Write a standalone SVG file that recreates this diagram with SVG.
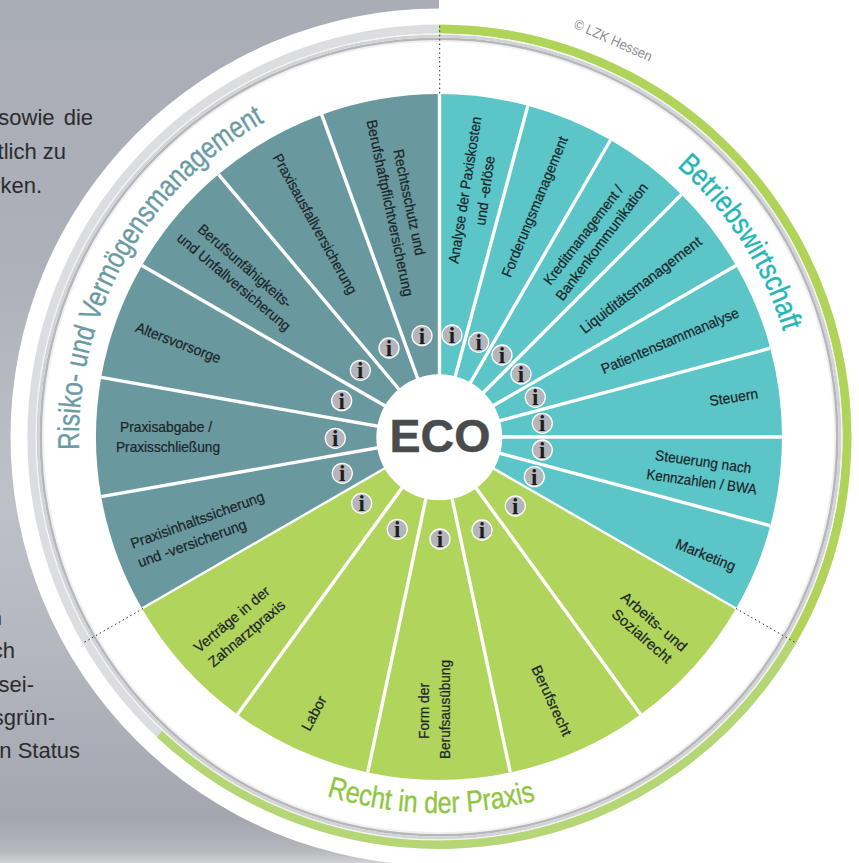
<svg xmlns="http://www.w3.org/2000/svg" width="859" height="863" viewBox="0 0 859 863">
<style>
.a{fill:#69999f}.b{fill:#5bc5c8}.c{fill:#b1d45c}
text{font-family:"Liberation Sans",Arial,sans-serif}
.l{font-size:14.6px;fill:#1c2528;stroke:#1c2528;stroke-width:.22;text-anchor:middle}
.i{fill:#b4b5ba;stroke:#fff;stroke-width:1.3}
.ii{font-family:"Liberation Serif",serif;font-weight:bold;font-size:23px;fill:#1d1d1f;text-anchor:middle}
.p{font-size:22px;fill:#2b2b2d;text-anchor:end}
.t{font-size:30px;stroke-width:.35}
.sep{stroke:#fff;stroke-width:3.4;fill:none}
.dot{stroke:#222;stroke-width:1;stroke-dasharray:1.4 3;fill:none}
.ring{fill:none}
</style>
<defs>
<linearGradient id="bg" x1="0" y1="0" x2="0" y2="1">
<stop offset="0" stop-color="#a9adb6"/><stop offset=".3" stop-color="#adb0b8"/><stop offset=".58" stop-color="#bfc1c8"/><stop offset=".75" stop-color="#b5b7bf"/><stop offset=".95" stop-color="#a3a6af"/><stop offset=".985" stop-color="#b5b7be"/><stop offset="1" stop-color="#cfd1d5"/>
</linearGradient>
<path id="pr" d="M79.2 449.6A360 360 0 0 1 264.5 122.1"/>
<path id="pb" d="M676.6 166.5A360 360 0 0 1 783.3 331.7"/>
<path id="pc" d="M326.6 795.8A376 376 0 0 0 536.3 800.2"/>
</defs>
<rect width="859" height="863" fill="#fff"/>
<rect id="page" width="439" height="863" fill="url(#bg)"/>
<g id="page-text">
<text class="p" x="93" y="125" word-spacing="3">sowie die</text>
<text class="p" x="66" y="159">tlich zu</text>
<text class="p" x="42" y="193">rken.</text>
<text class="p" x="2" y="625" font-weight="bold">n</text>
<text class="p" x="15" y="658">ch</text>
<text class="p" x="34" y="692">sei-</text>
<text class="p" x="55" y="725">sgrün-</text>
<text class="p" x="80" y="758">n Status</text>
</g>
<circle cx="439" cy="437" r="428.5" fill="#fff"/>
<g id="rings" class="ring">
<path d="M159.7 733.6A408 408 0 0 1 439 29" stroke="#dcdde0" stroke-width="9"/>
<path d="M439 29A408 408 0 0 1 792.3 641" stroke="#b0d45a" stroke-width="9"/>
<path d="M792.3 641A408 408 0 0 1 159.7 733.6" stroke="#b4d674" stroke-width="9"/>
<circle cx="439" cy="437" r="396" stroke="#f1f1f2" stroke-width="2"/>
<circle cx="439" cy="437" r="398.3" stroke="#b6b7bb" stroke-width="2.6"/>
<circle cx="439" cy="437" r="401" stroke="#d2d3d6" stroke-width="3"/>
<circle cx="439" cy="437" r="403" stroke="#f4f4f5" stroke-width="1.2"/>
</g>
<g id="node-rechtsschutz"><path class="a" d="M439 437V94A343 343 0 0 0 321.7 114.7Z"/>
<text class="l" transform="translate(409.3 202.3) rotate(78)" y="5" textLength="108" lengthAdjust="spacingAndGlyphs">Rechtsschutz und</text>
<text class="l" transform="translate(390 208) rotate(78)" y="5" textLength="180" lengthAdjust="spacingAndGlyphs">Berufshaftpflichtversicherung</text>
<circle class="i" cx="422" cy="335.7" r="10"/><text class="ii" x="422" y="343.5">i</text></g>
<g id="node-praxisausfall"><path class="a" d="M439 437L321.7 114.7A343 343 0 0 0 218.5 174.3Z"/>
<text class="l" transform="translate(315 224) rotate(61)" y="5" textLength="158" lengthAdjust="spacingAndGlyphs">Praxisausfallversicherung</text>
<circle class="i" cx="389" cy="348" r="10"/><text class="ii" x="389" y="355.8">i</text></g>
<g id="node-berufsunfaehigkeit"><path class="a" d="M439 437L218.5 174.3A343 343 0 0 0 142 265.5Z"/>
<text class="l" transform="translate(245 266) rotate(41)" y="5" textLength="119" lengthAdjust="spacingAndGlyphs">Berufsunfähigkeits-</text>
<text class="l" transform="translate(234 282) rotate(40)" y="5" textLength="143" lengthAdjust="spacingAndGlyphs">und Unfallversicherung</text>
<circle class="i" cx="360.3" cy="370.3" r="10"/><text class="ii" x="360.3" y="378.1">i</text></g>
<g id="node-altersvorsorge"><path class="a" d="M439 437L142 265.5A343 343 0 0 0 101.2 377.4Z"/>
<text class="l" transform="translate(178.3 342.7) rotate(21)" y="5" textLength="90" lengthAdjust="spacingAndGlyphs">Altersvorsorge</text>
<circle class="i" cx="341.7" cy="400.7" r="10"/><text class="ii" x="341.7" y="408.5">i</text></g>
<g id="node-praxisabgabe"><path class="a" d="M439 437L101.2 377.4A343 343 0 0 0 101.2 496.6Z"/>
<text class="l" transform="translate(166 427)" y="5" textLength="92" lengthAdjust="spacingAndGlyphs">Praxisabgabe /</text>
<text class="l" transform="translate(168 447)" y="5" textLength="104" lengthAdjust="spacingAndGlyphs">Praxisschließung</text>
<circle class="i" cx="335.3" cy="438.3" r="10"/><text class="ii" x="335.3" y="446.1">i</text></g>
<g id="node-praxisinhalt"><path class="a" d="M439 437L101.2 496.6A343 343 0 0 0 142 608.5Z"/>
<text class="l" transform="translate(197.3 520) rotate(-20)" y="5" textLength="141" lengthAdjust="spacingAndGlyphs">Praxisinhaltssicherung</text>
<text class="l" transform="translate(192 543.3) rotate(-20)" y="5" textLength="114.5" lengthAdjust="spacingAndGlyphs">und -versicherung</text>
<circle class="i" cx="342.3" cy="473.3" r="10"/><text class="ii" x="342.3" y="481.1">i</text></g>
<g id="node-vertraege"><path class="c" d="M439 437L142 608.5A343 343 0 0 0 237.4 714.5Z"/>
<text class="l" transform="translate(231.7 619.3) rotate(-40)" y="5" textLength="94" lengthAdjust="spacingAndGlyphs">Verträge in der</text>
<text class="l" transform="translate(246.7 633.3) rotate(-40)" y="5" textLength="95" lengthAdjust="spacingAndGlyphs">Zahnarztpraxis</text>
<circle class="i" cx="361.7" cy="503.3" r="10"/><text class="ii" x="361.7" y="511.1">i</text></g>
<g id="node-labor"><path class="c" d="M439 437L237.4 714.5A343 343 0 0 0 367.7 772.5Z"/>
<text class="l" transform="translate(314 713.3) rotate(-62)" y="5" textLength="37" lengthAdjust="spacingAndGlyphs">Labor</text>
<circle class="i" cx="397.3" cy="529.3" r="10"/><text class="ii" x="397.3" y="537.1">i</text></g>
<g id="node-form"><path class="c" d="M439 437L367.7 772.5A343 343 0 0 0 510.3 772.5Z"/>
<text class="l" transform="translate(424 711) rotate(-90)" y="5" textLength="56" lengthAdjust="spacingAndGlyphs">Form der</text>
<text class="l" transform="translate(445 709.5) rotate(-90)" y="5" textLength="99" lengthAdjust="spacingAndGlyphs">Berufsausübung</text>
<circle class="i" cx="440" cy="539" r="10"/><text class="ii" x="440" y="546.8">i</text></g>
<g id="node-berufsrecht"><path class="c" d="M439 437L510.3 772.5A343 343 0 0 0 640.6 714.5Z"/>
<text class="l" transform="translate(551.7 700.7) rotate(65)" y="5" textLength="76" lengthAdjust="spacingAndGlyphs">Berufsrecht</text>
<circle class="i" cx="482" cy="530" r="10"/><text class="ii" x="482" y="537.8">i</text></g>
<g id="node-arbeitsrecht"><path class="c" d="M439 437L640.6 714.5A343 343 0 0 0 736 608.5Z"/>
<text class="l" transform="translate(654 621.7) rotate(41)" y="5" textLength="82" lengthAdjust="spacingAndGlyphs">Arbeits- und</text>
<text class="l" transform="translate(642 636) rotate(41)" y="5" textLength="74" lengthAdjust="spacingAndGlyphs">Sozialrecht</text>
<circle class="i" cx="515.3" cy="506" r="10"/><text class="ii" x="515.3" y="513.8">i</text></g>
<g id="node-marketing"><path class="b" d="M439 437L736 608.5A343 343 0 0 0 770.3 525.8Z"/>
<text class="l" transform="translate(705.7 555) rotate(22)" y="5" textLength="63" lengthAdjust="spacingAndGlyphs">Marketing</text>
<circle class="i" cx="534.3" cy="476.7" r="10"/><text class="ii" x="534.3" y="484.5">i</text></g>
<g id="node-steuerung"><path class="b" d="M439 437L770.3 525.8A343 343 0 0 0 782 437Z"/>
<text class="l" transform="translate(703.3 461.7) rotate(8)" y="5" textLength="97" lengthAdjust="spacingAndGlyphs">Steuerung nach</text>
<text class="l" transform="translate(701.7 481.7) rotate(8)" y="5" textLength="111" lengthAdjust="spacingAndGlyphs">Kennzahlen / BWA</text>
<circle class="i" cx="542.3" cy="450" r="10"/><text class="ii" x="542.3" y="457.8">i</text></g>
<g id="node-steuern"><path class="b" d="M439 437H782A343 343 0 0 0 770.3 348.2Z"/>
<text class="l" transform="translate(733.7 397.3) rotate(-9)" y="5" textLength="49" lengthAdjust="spacingAndGlyphs">Steuern</text>
<circle class="i" cx="542.3" cy="423.3" r="10"/><text class="ii" x="542.3" y="431.1">i</text></g>
<g id="node-patientenstamm"><path class="b" d="M439 437L770.3 348.2A343 343 0 0 0 736 265.5Z"/>
<text class="l" transform="translate(670 340.7) rotate(-23)" y="5" textLength="148" lengthAdjust="spacingAndGlyphs">Patientenstammanalyse</text>
<circle class="i" cx="535.3" cy="397.3" r="10"/><text class="ii" x="535.3" y="405.1">i</text></g>
<g id="node-liquiditaet"><path class="b" d="M439 437L736 265.5A343 343 0 0 0 681.5 194.5Z"/>
<text class="l" transform="translate(640.7 285) rotate(-37.5)" y="5" textLength="149" lengthAdjust="spacingAndGlyphs">Liquiditätsmanagement</text>
<circle class="i" cx="521" cy="374" r="10"/><text class="ii" x="521" y="381.8">i</text></g>
<g id="node-kredit"><path class="b" d="M439 437L681.5 194.5A343 343 0 0 0 610.5 140Z"/>
<text class="l" transform="translate(583.3 235) rotate(-52.5)" y="5" textLength="121" lengthAdjust="spacingAndGlyphs">Kreditmanagement /</text>
<text class="l" transform="translate(601.7 241.7) rotate(-53)" y="5" textLength="143" lengthAdjust="spacingAndGlyphs">Bankenkommunikation</text>
<circle class="i" cx="502" cy="355" r="10"/><text class="ii" x="502" y="362.8">i</text></g>
<g id="node-forderung"><path class="b" d="M439 437L610.5 140A343 343 0 0 0 527.8 105.7Z"/>
<text class="l" transform="translate(534.7 206.7) rotate(-67.5)" y="5" textLength="151" lengthAdjust="spacingAndGlyphs">Forderungsmanagement</text>
<circle class="i" cx="478.7" cy="342.3" r="10"/><text class="ii" x="478.7" y="350.1">i</text></g>
<g id="node-analyse"><path class="b" d="M439 437L527.8 105.7A343 343 0 0 0 439 94Z"/>
<text class="l" transform="translate(465 190) rotate(-81)" y="5" textLength="148.5" lengthAdjust="spacingAndGlyphs">Analyse der Paxiskosten</text>
<text class="l" transform="translate(485 190.7) rotate(-82)" y="5" textLength="70" lengthAdjust="spacingAndGlyphs">und -erlöse</text>
<circle class="i" cx="452" cy="335" r="10"/><text class="ii" x="452" y="342.8">i</text></g>
<g id="connectors">
<g class="sep">
<path d="M439.5 437V94M439 437L527.8 105.7M439 437L610.5 140M439 437L681.5 194.5M439 437L736 265.5M439 437L770.3 348.2M439 437H782M439 437L770.3 525.8M439 437L640.6 714.5M439 437L510.3 772.5M439 437L367.7 772.5M439 437L237.4 714.5M439 437L101.2 496.6M439 437L101.2 377.4M439 437L142 265.5M439 437L218.5 174.3M439 437L321.7 114.7"/>
<path d="M439 437L736 608.5M439 437L142 608.5" stroke-width="2.4"/>
</g>
<path class="dot" d="M439.7 26V94M736 608.5L796 643M143 608.5L83 643"/>
</g>
<g id="hub"><circle cx="439.3" cy="437.3" r="63" fill="#fff"/>
<text x="440" y="451.7" text-anchor="middle" font-size="46.5" font-weight="bold" fill="#4a4b4d" stroke="#4a4b4d" stroke-width=".5">ECO</text></g>
<g id="section-titles">
<text class="t" fill="#6a9aa3" stroke="#6a9aa3"><textPath href="#pr" textLength="396" lengthAdjust="spacingAndGlyphs">Risiko- und Vermögensmanagement</textPath></text>
<text class="t" fill="#22b7b5" stroke="#22b7b5"><textPath href="#pb" textLength="199" lengthAdjust="spacingAndGlyphs">Betriebswirtschaft</textPath></text>
<text class="t" fill="#8fc640" stroke="#8fc640"><textPath href="#pc" textLength="212" lengthAdjust="spacingAndGlyphs">Recht in der Praxis</textPath></text>
</g>
<text id="copyright" transform="translate(613.3 40) rotate(24)" y="5" text-anchor="middle" font-size="14" fill="#8b8c8e" textLength="84" lengthAdjust="spacingAndGlyphs">© LZK Hessen</text>
</svg>
